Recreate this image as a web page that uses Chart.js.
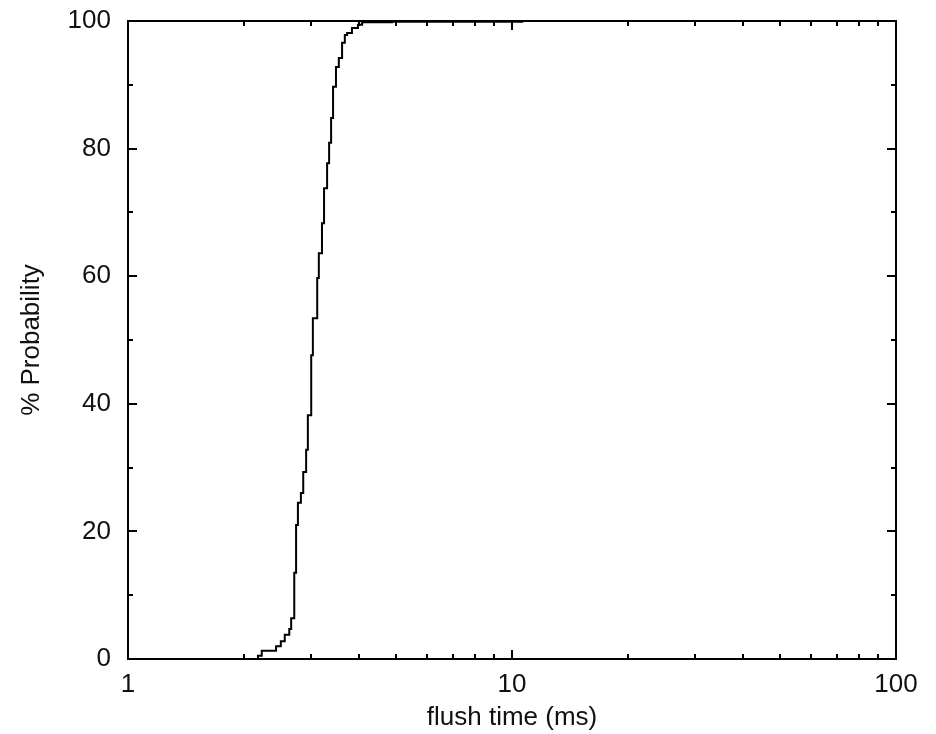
<!DOCTYPE html>
<html>
<head>
<meta charset="utf-8">
<script src="https://cdn.jsdelivr.net/npm/chart.js@4/dist/chart.umd.min.js"></script>
<style>
  html, body { margin: 0; padding: 0; background: #fff; }
  #wrap { width: 936px; height: 734px; }
</style>
</head>
<body>
<div id="wrap"><canvas id="myChart" width="936" height="734"></canvas></div>
<script>
// step corners of the CDF
const flushMs = [2.18, 2.23, 2.43, 2.5, 2.56, 2.63, 2.66, 2.71, 2.74, 2.77, 2.82, 2.86, 2.91, 2.94, 3.0, 3.03, 3.11, 3.14, 3.2, 3.24, 3.3, 3.34, 3.38, 3.42, 3.48, 3.54, 3.61, 3.67, 3.72, 3.83, 3.97, 4.07, 4.87, 10.7];
const probability = [0, 0.5, 1.3, 2.0, 2.8, 3.8, 4.7, 6.4, 13.5, 21.0, 24.5, 26.0, 29.3, 32.8, 38.2, 47.6, 53.4, 59.7, 63.6, 68.3, 73.8, 77.7, 80.9, 84.8, 89.7, 92.8, 94.2, 96.6, 97.8, 98.1, 98.9, 99.4, 99.8, 99.9];

// tick positions
const xMajor = [1, 10, 100];
const xMinor = [2, 3, 4, 5, 6, 7, 8, 9, 20, 30, 40, 50, 60, 70, 80, 90];
const yMajor = [0, 20, 40, 60, 80, 100];
const yMinor = [10, 30, 50, 70, 90];

const FONT = { family: "'Liberation Sans', Arial, sans-serif", size: 26 };

/**
 * Gnuplot-style frame with inward ticks on all four sides
 */
const framePlugin = {
  id: "frame",
  afterDatasetsDraw(chart) {
    const { ctx, chartArea: a, scales } = chart;
    const major = 9, minor = 5;
    ctx.save();
    ctx.strokeStyle = "#000";
    ctx.lineWidth = 2;
    ctx.beginPath();
    const tick = (vals, len, horiz) => {
      vals.forEach((v) => {
        if (horiz) {
          const px = Math.round(scales.x.getPixelForValue(v));
          ctx.moveTo(px, a.bottom); ctx.lineTo(px, a.bottom - len);
          ctx.moveTo(px, a.top); ctx.lineTo(px, a.top + len);
        } else {
          const py = Math.round(scales.y.getPixelForValue(v));
          ctx.moveTo(a.left, py); ctx.lineTo(a.left + len, py);
          ctx.moveTo(a.right, py); ctx.lineTo(a.right - len, py);
        }
      });
    };
    tick(xMajor, major, true);
    tick(xMinor, minor, true);
    tick(yMajor, major, false);
    tick(yMinor, minor, false);
    ctx.stroke();
    ctx.strokeRect(a.left, a.top, a.right - a.left, a.bottom - a.top);
    ctx.restore();
  },
};

const ctx = document.getElementById("myChart").getContext("2d");
new Chart(ctx, {
  type: "line",
  data: {
    datasets: [
      {
        data: flushMs.map((x, i) => ({ x: x, y: probability[i] })),
        borderColor: "#000",
        borderWidth: 2,
        pointRadius: 0,
        stepped: "after",
        fill: false,
      },
    ],
  },
  options: {
    responsive: false,
    animation: false,
    layout: { padding: { top: 21, right: 40, left: 0, bottom: 0 } },
    plugins: { legend: { display: false }, tooltip: { enabled: false } },
    scales: {
      x: {
        type: "logarithmic",
        min: 1,
        max: 100,
        grid: { display: false, drawTicks: false },
        border: { display: false },
        afterBuildTicks: (s) => { s.ticks = xMajor.map((v) => ({ value: v })); },
        afterFit: (s) => { s.height = 75; s.paddingLeft = 0; s.paddingRight = 0; },
        ticks: {
          font: FONT,
          color: "#111",
          padding: 10,
          maxRotation: 0,
          callback: (v) => String(v),
        },
        title: { display: true, text: "flush time (ms)", font: FONT, color: "#111", padding: { top: 0, bottom: 1 } },
      },
      y: {
        min: 0,
        max: 100,
        grid: { display: false, drawTicks: false },
        border: { display: false },
        afterBuildTicks: (s) => { s.ticks = yMajor.map((v) => ({ value: v })); },
        afterFit: (s) => { s.width = 128; s.paddingTop = 0; s.paddingBottom = 0; },
        ticks: { font: FONT, color: "#111", padding: 17 },
        title: { display: true, text: "% Probability", font: FONT, color: "#111", padding: { top: 16, bottom: 0 } },
      },
    },
  },
  plugins: [framePlugin],
});
</script>
</body>
</html>
